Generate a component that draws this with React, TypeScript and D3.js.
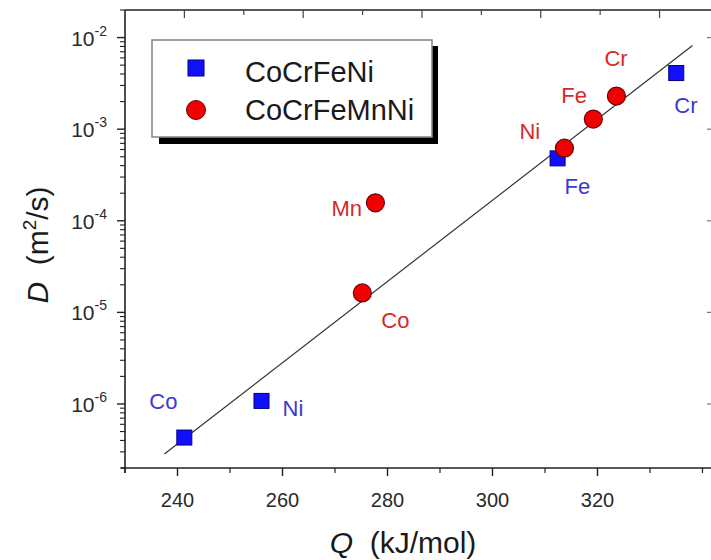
import React from "react";
import * as d3 from "d3";

const W = 711;
const H = 560;

// Data
const quatElements = ["Co", "Ni", "Fe", "Cr"];
const quatQ = [241.3, 256.0, 312.4, 335.0];
const quatD = [4.3e-7, 1.08e-6, 4.8e-4, 4.1e-3];

const quinElements = ["Co", "Mn", "Ni", "Fe", "Cr"];
const quinQ = [275.2, 277.7, 313.7, 319.2, 323.6];
const quinD = [1.63e-5, 1.57e-4, 6.2e-4, 1.29e-3, 2.3e-3];

const fitQ = [237.5, 338.1];
const fitD = [2.84e-7, 8.2e-3];

const xTicks = [240, 260, 280, 300, 320];
const xMinorTicks = [230, 250, 270, 290, 310, 330, 340];
const yTickExps = [-2, -3, -4, -5, -6];

// label offsets (px) relative to marker centre
const quatLabelOff = [
  [-35, -29],
  [21, 15],
  [7, 36],
  [-2, 40],
];
const quinLabelOff = [
  [19, 35],
  [-44, 13],
  [-45, -9],
  [-32, -16],
  [-12, -30],
];

const FONT = "'Liberation Sans', Arial, Helvetica, sans-serif";
const AXC = "#222";

export default function App() {
  const left = 125;
  const right = 713;
  const top = 10;
  const bottom = 468;

  const x = d3.scaleLinear().domain([230, 342]).range([left, right]);
  const xTop = d3.scaleLinear().domain([230, 329]).range([left, right]);
  const y = d3.scaleLog().domain([2e-7, 2e-2]).range([bottom, top]);

  const minorY: number[] = [];
  for (let e = -7; e <= -2; e++) {
    for (let m = 2; m <= 9; m++) {
      const v = m * Math.pow(10, e);
      if (v >= 2e-7 && v <= 2e-2) minorY.push(v);
    }
  }

  const line = d3
    .line<number>()
    .x((_, i) => x(fitQ[i]))
    .y((_, i) => y(fitD[i]));

  const topTicks = d3.range(240, 321, 10);

  return (
    <svg
      width={W}
      height={H}
      style={{ position: "absolute", left: 0, top: 0, background: "#fff" }}
      fontFamily={FONT}
    >
      <rect x={0} y={0} width={W} height={H} fill="#fff" />

      {/* axes lines */}
      <line x1={left} x2={left} y1={top} y2={bottom + 5} stroke={AXC} strokeWidth={1.6} />
      <line x1={left - 4} x2={W} y1={bottom} y2={bottom} stroke={AXC} strokeWidth={1.6} />
      <line x1={left} x2={W} y1={top} y2={top} stroke={AXC} strokeWidth={1.6} />

      {/* bottom ticks */}
      {xTicks.map((t) => (
        <g key={"xt" + t}>
          <line x1={x(t)} x2={x(t)} y1={bottom} y2={bottom + 8} stroke={AXC} strokeWidth={1.4} />
          <text x={x(t)} y={bottom + 39} textAnchor="middle" fontSize={20} fill="#2a2a2a">
            {t}
          </text>
        </g>
      ))}
      {xMinorTicks.map((t) => (
        <line key={"xm" + t} x1={x(t)} x2={x(t)} y1={bottom} y2={bottom + 5} stroke={AXC} strokeWidth={1.2} />
      ))}

      {/* top ticks */}
      {topTicks.map((t, i) => (
        <line
          key={"tt" + t}
          x1={xTop(t)}
          x2={xTop(t)}
          y1={top}
          y2={top + (i % 2 === 0 ? 8 : 5)}
          stroke="#444"
          strokeWidth={1.2}
        />
      ))}

      {/* left ticks */}
      {yTickExps.map((e) => {
        const v = Math.pow(10, e);
        return (
          <g key={"yt" + e}>
            <line x1={left - 8} x2={left} y1={y(v)} y2={y(v)} stroke={AXC} strokeWidth={1.4} />
            <line x1={W - 4} x2={W} y1={y(v)} y2={y(v)} stroke="#777" strokeWidth={1.2} />
            <text x={107} y={y(v) + 8} textAnchor="end" fontSize={21} fill="#2a2a2a">
              <tspan>10</tspan>
              <tspan dy={-10} fontSize={14}>
                {String(e)}
              </tspan>
            </text>
          </g>
        );
      })}
      {minorY.map((v, i) => (
        <line key={"ym" + i} x1={left - 5} x2={left} y1={y(v)} y2={y(v)} stroke={AXC} strokeWidth={1.1} />
      ))}

      {/* axis titles */}
      <text x={403} y={553} textAnchor="middle" fontSize={30} fill="#1a1a1a">
        <tspan fontStyle="italic">Q</tspan>
        <tspan>{"\u00a0 (kJ/mol)"}</tspan>
      </text>
      <text
        transform="translate(48,245) rotate(-90)"
        textAnchor="middle"
        fontSize={30}
        fill="#1a1a1a"
      >
        <tspan fontStyle="italic">D</tspan>
        <tspan>{"\u00a0 (m"}</tspan>
        <tspan dy={-12} fontSize={19}>
          2
        </tspan>
        <tspan dy={12}>/s)</tspan>
      </text>

      {/* fit line */}
      <path d={line(fitQ) || ""} fill="none" stroke="#333" strokeWidth={1.2} />

      {/* legend */}
      <rect x={159} y={46} width={279} height={98} fill="#000" />
      <rect x={152} y={40} width={280} height={97} fill="#fff" stroke="#8a8a8a" strokeWidth={1.6} />
      <rect x={188} y={60} width={16} height={16} fill="#1010ff" stroke="#00007a" strokeWidth={1} />
      <circle cx={196} cy={110} r={9.5} fill="#f00000" stroke="#700000" strokeWidth={1} />
      <text x={245} y={82} fontSize={29} fill="#1a1a1a">
        CoCrFeNi
      </text>
      <text x={245} y={120} fontSize={29} fill="#1a1a1a">
        CoCrFeMnNi
      </text>

      {/* CoCrFeNi squares */}
      {quatQ.map((q, i) => (
        <g key={"q4" + i}>
          <rect
            x={x(q) - 7.5}
            y={y(quatD[i]) - 7.5}
            width={15}
            height={15}
            fill="#1010ff"
            stroke="#00007a"
            strokeWidth={1}
          />
          <text
            x={x(q) + quatLabelOff[i][0]}
            y={y(quatD[i]) + quatLabelOff[i][1]}
            fontSize={22}
            fill="#3a3ad0"
          >
            {quatElements[i]}
          </text>
        </g>
      ))}

      {/* CoCrFeMnNi circles */}
      {quinQ.map((q, i) => (
        <g key={"q5" + i}>
          <circle cx={x(q)} cy={y(quinD[i])} r={9} fill="#f00000" stroke="#700000" strokeWidth={1.2} />
          <text
            x={x(q) + quinLabelOff[i][0]}
            y={y(quinD[i]) + quinLabelOff[i][1]}
            fontSize={22}
            fill="#d42a2a"
          >
            {quinElements[i]}
          </text>
        </g>
      ))}
    </svg>
  );
}
